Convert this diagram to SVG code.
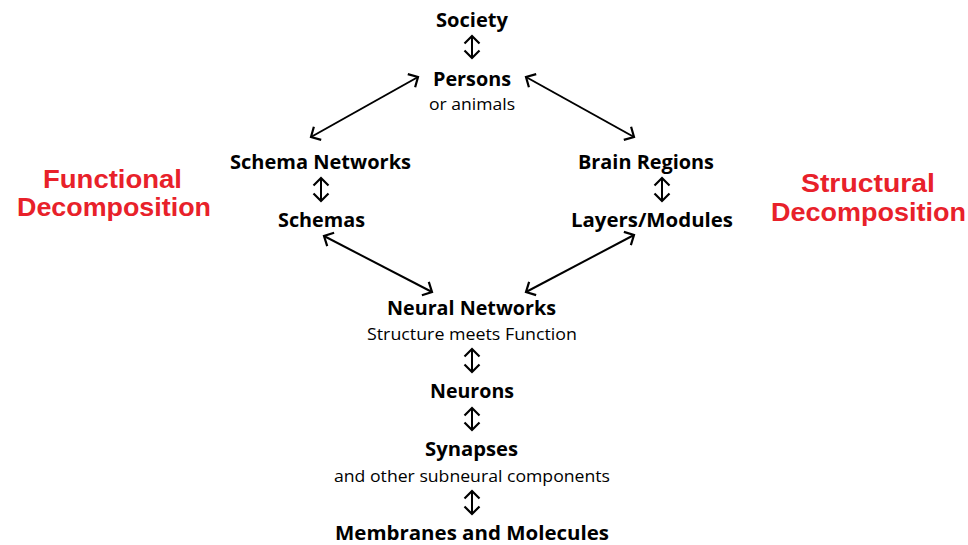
<svg xmlns="http://www.w3.org/2000/svg" width="968" height="545" viewBox="0 0 968 545">
<style>
.t{font-family:"Open Sans","Noto Sans","Liberation Sans",sans-serif;font-weight:700;font-size:20px;fill:#000;text-anchor:middle}
.s{font-family:"Open Sans","Noto Sans","Liberation Sans",sans-serif;font-weight:400;font-size:17px;fill:#000;text-anchor:middle}
.r{font-family:"Liberation Sans",Arial,sans-serif;font-weight:700;font-size:26px;fill:#E8212A;text-anchor:middle}
.c{stroke:#000;stroke-width:2;fill:none;marker-start:url(#ah);marker-end:url(#ah)}
</style>
<defs>
<marker id="ah" markerUnits="userSpaceOnUse" markerWidth="18" markerHeight="18" viewBox="0 0 18 18" refX="14" refY="9" orient="auto-start-reverse">
<path d="M6.5,1.5 L14,9 L6.5,16.5" fill="none" stroke="#000" stroke-width="2.2"/>
</marker>
</defs>
<rect width="968" height="545" fill="#fff"/>
<g id="connectors">
<line class="c" x1="472" y1="36" x2="472" y2="58"/>
<line class="c" x1="418" y1="77" x2="311" y2="137"/>
<line class="c" x1="526" y1="77" x2="634" y2="137"/>
<line class="c" x1="321" y1="178" x2="321" y2="201"/>
<line class="c" x1="662" y1="178" x2="662" y2="201"/>
<line class="c" x1="324" y1="236" x2="432" y2="292"/>
<line class="c" x1="634" y1="235" x2="526" y2="292"/>
<line class="c" x1="472" y1="349" x2="472" y2="372"/>
<line class="c" x1="472" y1="408" x2="472" y2="430"/>
<line class="c" x1="472" y1="491" x2="472" y2="514"/>
</g>
<g id="society"><text class="t" x="472" y="27" textLength="72" lengthAdjust="spacingAndGlyphs">Society</text></g>
<g id="persons"><text class="t" x="472" y="86" textLength="78" lengthAdjust="spacingAndGlyphs">Persons</text><text class="s" x="472" y="110" textLength="86" lengthAdjust="spacingAndGlyphs">or animals</text></g>
<g id="schema-networks"><text class="t" x="320.5" y="169" textLength="181" lengthAdjust="spacingAndGlyphs">Schema Networks</text></g>
<g id="schemas"><text class="t" x="321.5" y="227" textLength="87" lengthAdjust="spacingAndGlyphs">Schemas</text></g>
<g id="brain-regions"><text class="t" x="646" y="169" textLength="136" lengthAdjust="spacingAndGlyphs">Brain Regions</text></g>
<g id="layers-modules"><text class="t" x="652" y="227" textLength="162" lengthAdjust="spacingAndGlyphs">Layers/Modules</text></g>
<g id="neural-networks"><text class="t" x="471.5" y="315" textLength="169" lengthAdjust="spacingAndGlyphs">Neural Networks</text><text class="s" x="472" y="340" textLength="210" lengthAdjust="spacingAndGlyphs">Structure meets Function</text></g>
<g id="neurons"><text class="t" x="472" y="398" textLength="84" lengthAdjust="spacingAndGlyphs">Neurons</text></g>
<g id="synapses"><text class="t" x="471.5" y="456" textLength="93" lengthAdjust="spacingAndGlyphs">Synapses</text><text class="s" x="472" y="482" textLength="276" lengthAdjust="spacingAndGlyphs">and other subneural components</text></g>
<g id="membranes"><text class="t" x="472" y="540" textLength="274" lengthAdjust="spacingAndGlyphs">Membranes and Molecules</text></g>
<g id="functional"><text class="r" x="112.5" y="188" textLength="139" lengthAdjust="spacingAndGlyphs">Functional</text><text class="r" x="114" y="216" textLength="194" lengthAdjust="spacingAndGlyphs">Decomposition</text></g>
<g id="structural"><text class="r" x="868" y="192" textLength="134" lengthAdjust="spacingAndGlyphs">Structural</text><text class="r" x="868.5" y="221" textLength="195" lengthAdjust="spacingAndGlyphs">Decomposition</text></g>
</svg>
